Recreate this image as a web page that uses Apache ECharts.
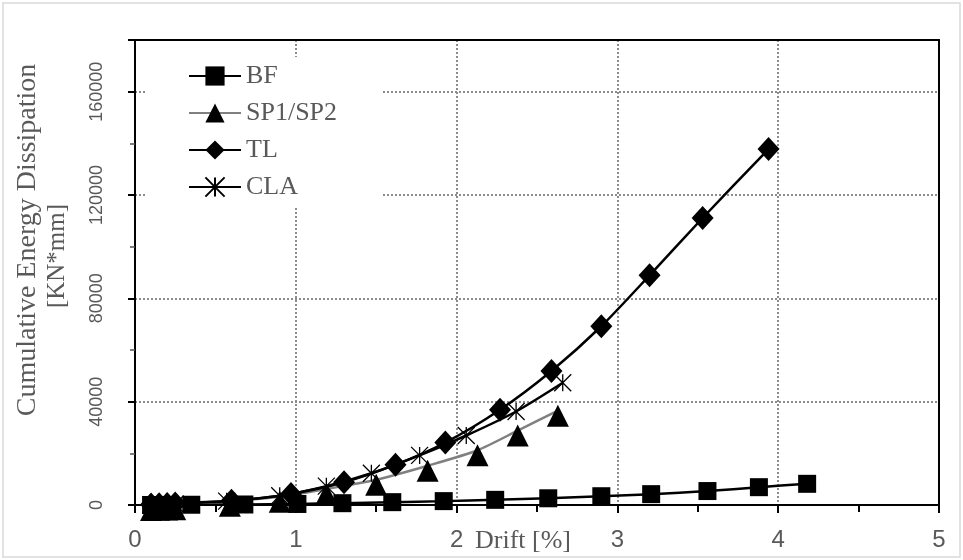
<!DOCTYPE html>
<html>
<head>
<meta charset="utf-8">
<script src="https://cdn.jsdelivr.net/npm/echarts@6/dist/echarts.min.js"></script>
<style>
  html, body { margin: 0; padding: 0; background: #fff; }
  #main { width: 963px; height: 560px; }
</style>
</head>
<body>
<div id="main"></div>
<script>
// 数据 (drift %, energy kN*mm)
const bfDrift = [0.1, 0.15, 0.2, 0.35, 0.68, 1.01, 1.29, 1.60, 1.92, 2.24, 2.57, 2.90, 3.21, 3.56, 3.88, 4.18];
const bfEnergy = [0, 0, 0, 100, 200, 400, 700, 1100, 1500, 2000, 2600, 3400, 4200, 5400, 6900, 8200];

const spDrift = [0.1, 0.15, 0.2, 0.25, 0.59, 0.9, 1.19, 1.50, 1.82, 2.13, 2.38, 2.63];
const spEnergy = [0, 100, 200, 300, 1600, 3200, 6200, 9800, 15200, 21200, 28800, 36500];

const tlDrift = [0.1, 0.15, 0.2, 0.25, 0.6, 0.97, 1.30, 1.62, 1.93, 2.27, 2.59, 2.90, 3.20, 3.53, 3.94];
const tlEnergy = [200, 300, 400, 600, 1600, 4300, 8800, 15600, 24200, 36900, 51900, 69200, 88900, 111100, 137800];

const claDrift = [0.1, 0.15, 0.2, 0.25, 0.57, 0.90, 1.19, 1.47, 1.77, 2.06, 2.37, 2.66];
const claEnergy = [100, 200, 300, 400, 1500, 3600, 7300, 12300, 19200, 26900, 36200, 47300];

const seriesNames = ['BF', 'SP1/SP2', 'TL', 'CLA'];
const xTicks = [0, 1, 2, 3, 4, 5];
const yTicks = [0, 40000, 80000, 120000, 160000];

const gray = '#595959';
const serif = '"Liberation Serif", "Times New Roman", serif';
const sans = '"Liberation Sans", Arial, sans-serif';
const star = 'path://M5,0L5,10M0,0L10,10M10,0L0,10';

function pairs(xs, ys) {
  return xs.map((x, i) => [x, ys[i]]);
}

// 边框轴 (top / right frame)
const frameAxis = {
  type: 'value',
  axisLine: { show: true, onZero: false, lineStyle: { color: '#000', width: 2 } },
  axisTick: { show: false },
  axisLabel: { show: false },
  splitLine: { show: false }
};

const chart = echarts.init(document.getElementById('main'), null, { renderer: 'canvas' });

chart.setOption({
  animation: false,
  backgroundColor: '#fff',
  grid: {
    left: 135, right: 24, top: 40, bottom: 55,
    outerBoundsMode: 'none',
    containLabel: false
  },
  legend: {
    orient: 'vertical',
    left: 145, top: 57,
    padding: [6, 44, 7, 43],
    backgroundColor: '#fff',
    itemWidth: 52, itemHeight: 24, itemGap: 11,
    data: seriesNames,
    textStyle: { fontFamily: serif, fontSize: 26, color: gray, lineHeight: 26 }
  },
  xAxis: [
    {
      type: 'value',
      min: xTicks[0], max: xTicks[xTicks.length - 1], interval: 1,
      axisLine: { onZero: false, lineStyle: { color: '#000', width: 2 } },
      axisTick: { show: true, length: 8, lineStyle: { color: '#000', width: 2 } },
      minorTick: { show: true, splitNumber: 2, length: 7, lineStyle: { color: '#000', width: 2 } },
      axisLabel: { fontFamily: sans, fontSize: 24, color: gray, margin: 23 },
      splitLine: { show: true, lineStyle: { color: '#8c8c8c', type: [2, 2], width: 2 } }
    },
    Object.assign({ position: 'top', min: 0, max: 5 }, frameAxis)
  ],
  yAxis: [
    {
      type: 'value',
      min: 0, max: 180000, interval: 40000,
      axisLine: { show: true, onZero: false, lineStyle: { color: '#000', width: 2 } },
      axisTick: { show: true, length: 7, lineStyle: { color: '#000', width: 2 } },
      minorTick: { show: true, splitNumber: 2, length: 5, lineStyle: { color: '#555', width: 1.5 } },
      axisLabel: {
        fontFamily: sans, fontSize: 18, color: gray, rotate: 90, margin: 29,
        showMaxLabel: false,
        formatter: v => (yTicks.indexOf(v) >= 0 ? String(v) : '')
      },
      splitLine: { show: true, lineStyle: { color: '#8c8c8c', type: [2, 2], width: 2 } }
    },
    Object.assign({ position: 'right', min: 0, max: 180000 }, frameAxis)
  ],
  graphic: [
    {
      type: 'rect', silent: true, z: -10,
      shape: { x: 3, y: 3, width: 957, height: 554 },
      style: { fill: 'none', stroke: '#d9d9d9', lineWidth: 1.5 }
    },
    {
      type: 'text', x: 28, y: 240, rotation: Math.PI / 2,
      style: { text: 'Cumulative Energy Dissipation', fill: gray, font: '28px ' + serif, align: 'center', verticalAlign: 'middle' }
    },
    {
      type: 'text', x: 57, y: 256, rotation: Math.PI / 2,
      style: { text: '[KN*mm]', fill: gray, font: '25px ' + serif, align: 'center', verticalAlign: 'middle' }
    },
    {
      type: 'text', x: 475, y: 541,
      style: { text: 'Drift [%]', fill: gray, font: '26px ' + serif, align: 'left', verticalAlign: 'middle' }
    }
  ],
  series: [
    {
      name: 'BF', type: 'line', data: pairs(bfDrift, bfEnergy),
      color: '#000', smooth: 0.25,
      symbol: 'rect', symbolSize: 18,
      lineStyle: { color: '#000', width: 2.5 },
      itemStyle: { color: '#000' }
    },
    {
      name: 'SP1/SP2', type: 'line', data: pairs(spDrift, spEnergy),
      color: '#000', smooth: 0.25,
      symbol: 'triangle', symbolSize: [22, 22], symbolOffset: [0, 5],
      lineStyle: { color: '#808080', width: 2.5 },
      itemStyle: { color: '#000' }
    },
    {
      name: 'TL', type: 'line', data: pairs(tlDrift, tlEnergy),
      color: '#000', smooth: 0.25,
      symbol: 'diamond', symbolSize: [22, 24],
      lineStyle: { color: '#000', width: 2.5 },
      itemStyle: { color: '#000' }
    },
    {
      name: 'CLA', type: 'line', data: pairs(claDrift, claEnergy),
      color: '#000', smooth: 0.25,
      symbol: star, symbolSize: 17,
      lineStyle: { color: '#000', width: 2.5 },
      itemStyle: { color: 'rgba(0,0,0,0)', borderColor: '#000', borderWidth: 1.3 }
    }
  ]
});
</script>
</body>
</html>
